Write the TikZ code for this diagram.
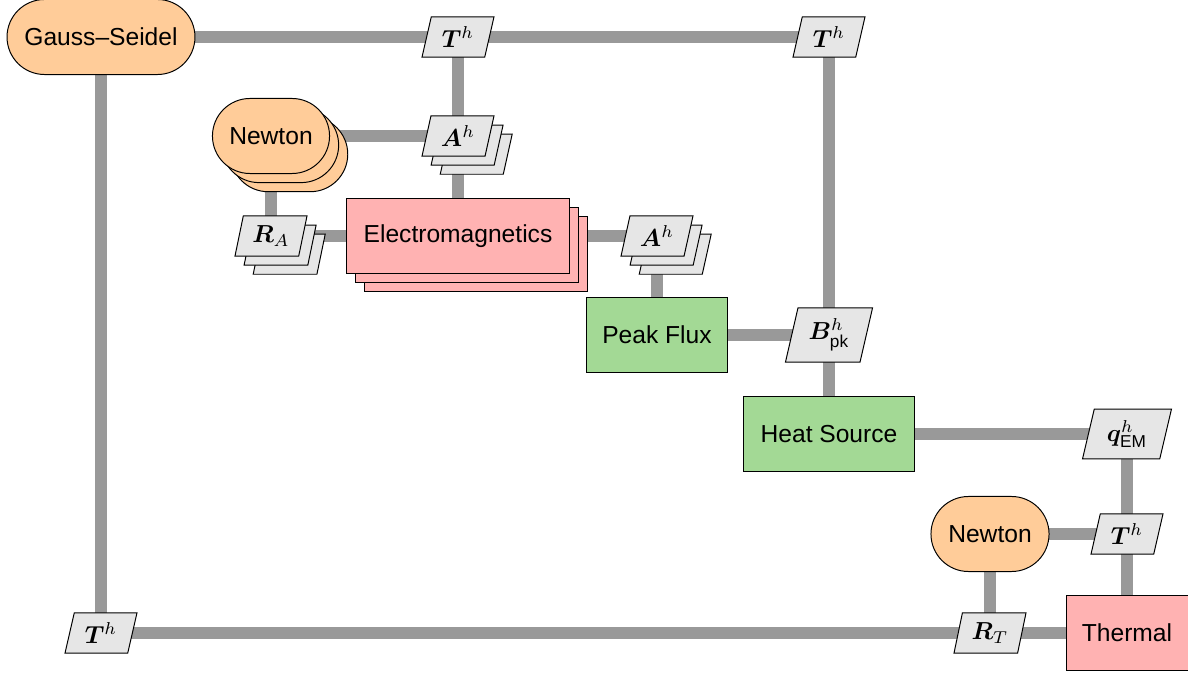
\documentclass[tikz,border=0pt]{standalone}
\usepackage{fontspec}
\setmainfont{Liberation Sans}
\usepackage{amsmath}
\usepackage{bm}
\usetikzlibrary{shapes.geometric,shadows,backgrounds}
\definecolor{peach}{RGB}{255,204,153}
\definecolor{pinkbox}{RGB}{255,178,178}
\definecolor{greenbox}{RGB}{163,217,149}
\definecolor{databox}{RGB}{230,230,230}
\definecolor{conncol}{RGB}{153,153,153}
\tikzset{
  solver/.style={draw=black, line width=0.4pt, fill=peach, rounded corners=15.25pt, minimum height=30.5pt, inner sep=0pt},
  physics/.style={draw=black, line width=0.4pt, fill=pinkbox, minimum height=30.5pt, inner sep=0pt},
  postproc/.style={draw=black, line width=0.4pt, fill=greenbox, minimum height=30.5pt, inner sep=0pt},
  datum/.style={trapezium, trapezium left angle=76, trapezium right angle=104, trapezium stretches=true, draw=black, line width=0.4pt, fill=databox, minimum width=29.3pt, minimum height=16.3pt, inner sep=1pt},
  stack/.style={copy shadow={shadow xshift=7.4pt, shadow yshift=-7.4pt, fill=#1, draw=black, line width=0.4pt}, copy shadow={shadow xshift=3.7pt, shadow yshift=-3.7pt, fill=#1, draw=black, line width=0.4pt}},
  conn/.style={draw=conncol, line width=4.8pt},
}
\begin{document}
\begin{tikzpicture}[x=0.4065pt, y=-0.4065pt]
\useasboundingbox (0,0) rectangle (1188,674);
\node[solver, minimum width=76.4pt] (gs) at (101,37) {Gauss–Seidel};
\node[datum] (t1) at (458,37) {$\bm{T}^h$};
\node[datum] (t2) at (829,37) {$\bm{T}^h$};
\node[solver, stack=peach, minimum width=47.6pt] (n1) at (271,136) {Newton};
\node[datum, stack=databox] (a1) at (458,136) {$\bm{A}^h$};
\node[datum, stack=databox] (ra) at (271,236) {$\bm{R}_A$};
\node[physics, stack=pinkbox, minimum width=90.6pt] (em) at (458,236) {Electromagnetics};
\node[datum, stack=databox] (a2) at (657,236) {$\bm{A}^h$};
\node[postproc, minimum width=57.7pt] (pf) at (657,335) {Peak Flux};
\node[datum, minimum width=35.4pt, minimum height=22pt] (b) at (829,335) {$\bm{B}^h_{\text{pk}}$};
\node[postproc, minimum width=69.5pt] (hs) at (829,434) {Heat Source};
\node[datum, minimum width=36.2pt, minimum height=20.3pt] (q) at (1127,434) {$\bm{q}^h_{\text{EM}}$};
\node[solver, minimum width=48pt] (n2) at (990,534) {Newton};
\node[datum] (t4) at (1127,534) {$\bm{T}^h$};
\node[datum] (t5) at (101,633) {$\bm{T}^h$};
\node[datum] (rt) at (990,633) {$\bm{R}_T$};
\node[physics, minimum width=49.6pt] (th) at (1127,633) {Thermal};
\begin{scope}[on background layer]
\draw[conn] (gs.center) -- (t1.center);
\draw[conn] (t1.center) -- (t2.center);
\draw[conn] (gs.center) -- (t5.center);
\draw[conn] (t5.center) -- (rt.center);
\draw[conn] (rt.center) -- (th.center);
\draw[conn] (rt.center) -- (n2.center);
\draw[conn] (n2.center) -- (t4.center);
\draw[conn] (t4.center) -- (q.center);
\draw[conn] (t4.center) -- (th.center);
\draw[conn] (q.center) -- (hs.center);
\draw[conn] (hs.center) -- (b.center);
\draw[conn] (b.center) -- (t2.center);
\draw[conn] (b.center) -- (pf.center);
\draw[conn] (pf.center) -- (a2.center);
\draw[conn] (a2.center) -- (em.center);
\draw[conn] (em.center) -- (ra.center);
\draw[conn] (ra.center) -- (n1.center);
\draw[conn] (n1.center) -- (a1.center);
\draw[conn] (a1.center) -- (em.center);
\draw[conn] (a1.center) -- (t1.center);
\end{scope}
\end{tikzpicture}
\end{document}
